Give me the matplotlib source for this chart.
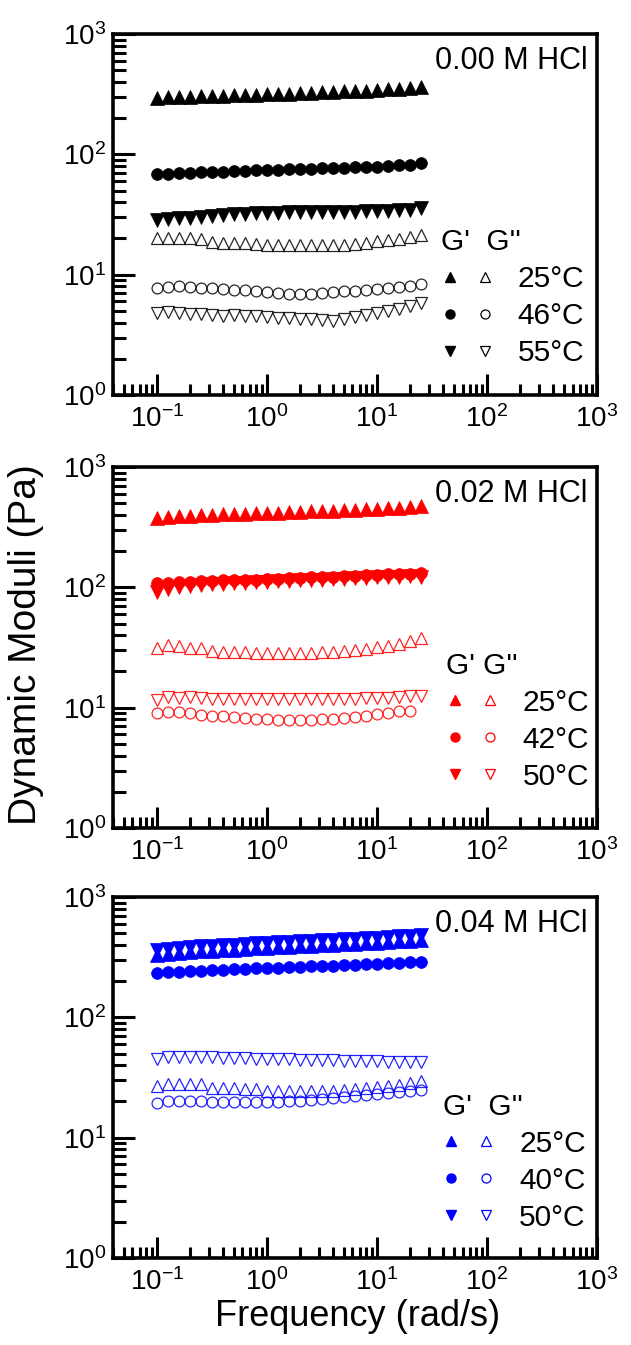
import numpy as np
import matplotlib
matplotlib.use("Agg")
import matplotlib.pyplot as plt
from matplotlib.lines import Line2D
from matplotlib.legend_handler import HandlerTuple
from matplotlib.ticker import LogLocator, NullFormatter

plt.rcParams['font.family'] = ['Liberation Sans', 'DejaVu Sans']
plt.rcParams['mathtext.fontset'] = 'custom'
plt.rcParams['mathtext.rm'] = 'Liberation Sans'
plt.rcParams['mathtext.it'] = 'Liberation Sans'
plt.rcParams['mathtext.default'] = 'regular'
plt.rcParams['axes.unicode_minus'] = False

# ---------------- data ----------------
freq = [0.1, 0.126, 0.158, 0.2, 0.251, 0.316, 0.398, 0.501, 0.631, 0.794,
        1.0, 1.26, 1.58, 2.0, 2.51, 3.16, 3.98, 5.01, 6.31, 7.94,
        10.0, 12.6, 15.8, 20.0, 25.1]

# Panel 1: 0.00 M HCl (25, 46, 55 C)
p1_Gp_25 = [295, 298, 300, 302, 304, 306, 308, 310, 312, 314, 316, 318, 320, 322, 324,
            327, 330, 333, 336, 339, 342, 346, 350, 354, 360]
p1_Gp_46 = [68, 69, 70, 70.5, 71, 71.5, 72, 72.5, 73, 73.5, 74, 74.5, 75, 75.5, 76,
            76.5, 77, 77.5, 78, 78.5, 79, 80, 81, 82, 84]
p1_Gp_55 = [28.5, 29, 29.3, 29.6, 30, 30.5, 31.5, 31.8, 32, 32.3, 32.5, 32.7, 33, 33, 33,
            33, 33, 33.2, 33.4, 33.6, 33.8, 34, 34.3, 34.7, 35.5]
p1_Gpp_25 = [20, 20.3, 20.2, 20, 19.8, 18.6, 18.5, 18.4, 18.2, 17.9, 17.8, 17.7, 17.6, 17.6,
             17.6, 17.6, 17.7, 17.8, 18.1, 18.5, 18.9, 19.3, 19.8, 20.5, 21.5]
p1_Gpp_46 = [7.7, 7.9, 8.0, 7.9, 7.8, 7.7, 7.6, 7.5, 7.4, 7.3, 7.2, 7.05, 6.95, 6.9, 6.95,
             7.05, 7.15, 7.25, 7.35, 7.5, 7.65, 7.8, 7.95, 8.1, 8.3]
p1_Gpp_55 = [4.8, 4.85, 4.8, 4.75, 4.7, 4.6, 4.55, 4.6, 4.55, 4.5, 4.45, 4.4, 4.35, 4.3, 4.25,
             4.2, 4.15, 4.3, 4.45, 4.6, 4.8, 5.0, 5.2, 5.45, 5.8]

# Panel 2: 0.02 M HCl (25, 42, 50 C)
p2_Gp_25 = [378, 385, 390, 393, 396, 400, 403, 406, 409, 412, 415, 418, 421, 424, 427,
            430, 434, 438, 442, 446, 450, 455, 460, 466, 475]
p2_Gp_42 = [108, 109, 110, 111, 112, 113, 114, 115, 115.5, 116, 117, 118, 119, 120, 121,
            122, 123, 124, 125, 126, 127, 128, 129, 130, 131]
p2_Gp_50 = [92, 97, 100, 102, 104, 106, 107, 108, 109, 110, 111, 112, 113, 114, 115,
            116, 117, 118, 119, 120, 121, 122, 123, 124, 122]
p2_Gpp_25 = [31.5, 33, 32.5, 31.5, 31.5, 29.5, 29, 29, 28.8, 28.7, 28.6, 28.5, 28.5, 28.5,
             28.6, 28.8, 29.1, 29.6, 30.2, 31, 31.8, 32.8, 34, 35.5, 38]
p2_Gpp_42 = [9.1, 9.2, 9.2, 9.1, 8.7, 8.5, 8.5, 8.3, 8.2, 8.1, 8.0, 7.95, 7.9, 7.9, 7.95,
             8.0, 8.1, 8.25, 8.4, 8.6, 8.8, 9.0, 9.3, 9.4]
p2_Gpp_50 = [11.5, 12.2, 12.1, 12.2, 12.1, 11.9, 11.8, 11.8, 11.8, 11.7, 11.7, 11.7, 11.7,
             11.7, 11.7, 11.7, 11.8, 11.8, 11.9, 12.0, 12.0, 12.1, 12.2, 12.4, 12.6]

# Panel 3: 0.04 M HCl (25, 40, 50 C)
p3_Gp_25 = [330, 338, 344, 349, 354, 358, 362, 366, 370, 374, 378, 382, 386, 390, 394,
            398, 402, 406, 410, 414, 418, 422, 427, 432, 440]
p3_Gp_40 = [232, 236, 239, 242, 245, 247, 249, 251, 253, 255, 257, 259, 261, 263, 265,
            267, 269, 271, 273, 276, 278, 281, 284, 287, 291]
p3_Gp_50 = [365, 372, 378, 384, 389, 394, 398, 402, 407, 411, 416, 420, 425, 429, 433,
            438, 442, 447, 451, 456, 460, 465, 470, 476, 484]
p3_Gpp_25 = [27, 28, 28, 28, 28, 26, 26, 25.8, 25.5, 25.2, 24.5, 24.3, 24.2, 24.2, 24.3,
             24.4, 24.6, 24.9, 25.3, 25.8, 26.3, 26.9, 27.5, 28.2, 29.5]
p3_Gpp_40 = [19.5, 20, 20.1, 20.1, 20, 19.8, 19.7, 19.6, 19.6, 19.6, 19.7, 19.8, 20, 20.2,
             20.5, 20.8, 21.2, 21.6, 22, 22.5, 23, 23.5, 24, 24.5, 25]
p3_Gpp_50 = [45, 46.5, 47, 47, 46.8, 46.5, 46.2, 46, 45.7, 45.4, 45.1, 44.9, 44.7, 44.5,
             44.3, 44.1, 43.9, 43.7, 43.5, 43.3, 43.1, 42.9, 42.7, 42.6, 42.5]

panel_titles = ["0.00 M HCl", "0.02 M HCl", "0.04 M HCl"]
legend_titles = ["G'  G''", "G' G''", "G'  G''"]
panel_temps = [["25°C", "46°C", "55°C"], ["25°C", "42°C", "50°C"], ["25°C", "40°C", "50°C"]]
panel_colors = ["black", "#ff0000", "#0000ff"]
panel_Gp = [[p1_Gp_25, p1_Gp_46, p1_Gp_55], [p2_Gp_25, p2_Gp_42, p2_Gp_50],
            [p3_Gp_25, p3_Gp_40, p3_Gp_50]]
panel_Gpp = [[p1_Gpp_25, p1_Gpp_46, p1_Gpp_55], [p2_Gpp_25, p2_Gpp_42, p2_Gpp_50],
             [p3_Gpp_25, p3_Gpp_40, p3_Gpp_50]]
markers = ['^', 'o', 'v']

# ---------------- figure ----------------
W, H = 631, 1345
fig = plt.figure(figsize=(W / 100, H / 100), dpi=100)

left, right = 113 / W, 597 / W
tops = [34, 467, 897]
ph = 361
axes = []
for top in tops:
    ax = fig.add_axes([left, 1 - (top + ph) / H, right - left, ph / H])
    axes.append(ax)

ms = {'^': 8.5, 'o': 7.5, 'v': 8.5}
leg_fs = 21.5
for i, ax in enumerate(axes):
    c = panel_colors[i]
    handles = []
    for k, m in enumerate(markers):
        y = panel_Gpp[i][k]
        ax.plot(freq[:len(y)], y, ls='none', marker=m, ms=ms[m] + (0.5 if m != 'o' else 0.3),
                mfc='none', mec=c, mew=0.9, alpha=0.85)
    for k, m in enumerate(markers):
        y = panel_Gp[i][k]
        ax.plot(freq[:len(y)], y, ls='none', marker=m, ms=ms[m] + 1.0, mfc=c, mec=c, mew=0.5)
    for k, m in enumerate(markers):
        hf = Line2D([], [], ls='none', marker=m, ms=6.5, mfc=c, mec=c)
        ho = Line2D([], [], ls='none', marker=m, ms=6.5, mfc='none', mec=c, mew=0.9)
        handles.append((hf, ho))

    ax.set_xscale('log')
    ax.set_yscale('log')
    ax.set_xlim(0.04, 1000)
    ax.set_ylim(1, 1000)
    ax.xaxis.set_major_locator(LogLocator(base=10, numticks=10))
    ax.xaxis.set_minor_locator(LogLocator(base=10, subs=np.arange(2, 10), numticks=20))
    ax.yaxis.set_major_locator(LogLocator(base=10, numticks=10))
    ax.yaxis.set_minor_locator(LogLocator(base=10, subs=np.arange(2, 10), numticks=20))
    ax.xaxis.set_minor_formatter(NullFormatter())
    ax.yaxis.set_minor_formatter(NullFormatter())
    for s in ax.spines.values():
        s.set_linewidth(2.6)
    ax.tick_params(which='both', direction='in', top=False, right=False, labelsize=20)
    ax.tick_params(axis='y', which='major', length=16, width=2.2, pad=5)
    ax.tick_params(axis='y', which='minor', length=9, width=2.2)
    ax.tick_params(axis='x', which='major', length=15, width=2.2, pad=7)
    ax.tick_params(axis='x', which='minor', length=8, width=2.2)

    ax.text(0.98, 0.925, panel_titles[i], transform=ax.transAxes, ha='right', va='center',
            fontsize=22)

    leg_y = [0.52, 0.546, 0.515][i]
    leg_x = [0.635, 0.645, 0.638][i]
    ax.legend(handles, panel_temps[i], title=legend_titles[i], loc='upper left',
              bbox_to_anchor=(leg_x, leg_y), frameon=False, fontsize=leg_fs,
              title_fontsize=leg_fs,
              handler_map={tuple: HandlerTuple(ndivide=None, pad=0.6)},
              handlelength=1.74, handletextpad=0.82, labelspacing=0.3,
              alignment='left', borderpad=0.2)

fig.text(26 / W, 1 - 645 / H, "Dynamic Moduli (Pa)", rotation=90, ha='center', va='center',
         fontsize=28)
fig.text(358 / W, 1 - 1316 / H, "Frequency (rad/s)", ha='center', va='center',
         fontsize=26)

fig.savefig("out.png", dpi=100)
